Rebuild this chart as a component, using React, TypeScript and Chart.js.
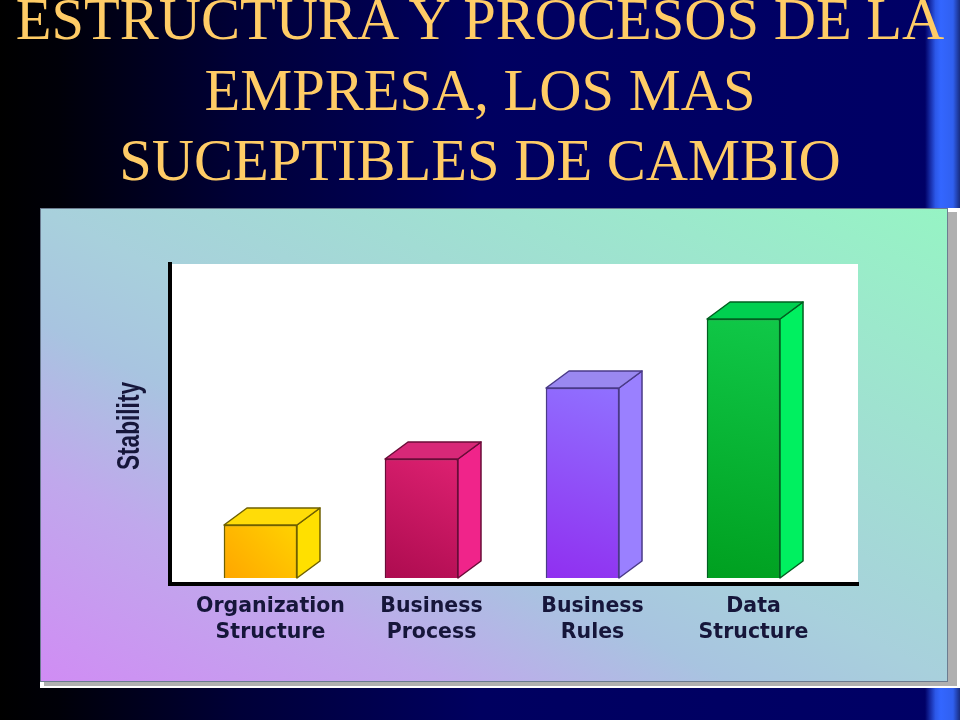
import { useEffect, useRef } from 'react';
import { Chart, registerables } from 'chart.js';

Chart.register(...registerables);

const titleLines = ['ESTRUCTURA Y PROCESOS DE LA', 'EMPRESA, LOS MAS', 'SUCEPTIBLES DE CAMBIO'];
const categories = [['Organization', 'Structure'], ['Business', 'Process'], ['Business', 'Rules'], ['Data', 'Structure']];
const stability = [53, 119, 190, 259];
const yAxisLabel = 'Stability';

const palette = [
  { light: '#ffd000', dark: '#ffa800', side: '#ffe000', top: '#ffdc08', edge: '#6f6000' },
  { light: '#dc2070', dark: '#ae0c50', side: '#f0248a', top: '#d82878', edge: '#6a0c38' },
  { light: '#9070ff', dark: '#9030f0', side: '#9a80ff', top: '#9a88f0', edge: '#4a3a88' },
  { light: '#10c848', dark: '#00a020', side: '#00f060', top: '#00d050', edge: '#006020' },
];

const DEPTH_X = 23;
const DEPTH_Y = 17;

const backdrop = {
  id: 'backdrop',
  beforeDraw(chart: any) {
    const { ctx, chartArea, width, height } = chart;
    ctx.save();
    const bg = ctx.createLinearGradient(0, 0, width, 0);
    bg.addColorStop(0, '#000000');
    bg.addColorStop(0.06, '#000008');
    bg.addColorStop(0.25, '#000038');
    bg.addColorStop(0.5, '#000060');
    bg.addColorStop(1, '#000066');
    ctx.fillStyle = bg;
    ctx.fillRect(0, 0, width, height);

    const stripe = ctx.createLinearGradient(925, 0, 960, 0);
    stripe.addColorStop(0, '#000066');
    stripe.addColorStop(0.3, '#2c58e8');
    stripe.addColorStop(0.45, '#3366ff');
    stripe.addColorStop(0.8, '#3060f0');
    stripe.addColorStop(1, '#182c80');
    ctx.fillStyle = stripe;
    ctx.fillRect(925, 0, 35, height);

    ctx.fillStyle = '#ffffff';
    ctx.fillRect(40, 208, 920, 480);
    ctx.fillStyle = '#b0b0b0';
    ctx.fillRect(44, 212, 913, 474);

    // corner to corner, so top left and bottom right share a colour
    const panel = ctx.createLinearGradient(300, 817, 688, 73);
    panel.addColorStop(0, '#d08cf4');
    panel.addColorStop(0.22, '#c0a8ec');
    panel.addColorStop(0.38, '#a8c4e0');
    panel.addColorStop(0.5, '#a8d0dc');
    panel.addColorStop(1, '#96f4c4');
    ctx.fillStyle = panel;
    ctx.fillRect(40, 208, 908, 474);
    ctx.strokeStyle = '#6c7c90';
    ctx.lineWidth = 1;
    ctx.strokeRect(40.5, 208.5, 907, 473);

    ctx.fillStyle = '#ffffff';
    ctx.fillRect(chartArea.left, chartArea.top, chartArea.width, chartArea.height);
    ctx.restore();
  },
};

// side and top faces of the boxes, taken from the bar elements
const boxFaces = {
  id: 'boxFaces',
  afterDatasetsDraw(chart: any) {
    const { ctx } = chart;
    chart.getDatasetMeta(0).data.forEach((bar: any, i: number) => {
      const right = bar.x + bar.width / 2;
      const left = bar.x - bar.width / 2;
      const c = palette[i];
      ctx.save();
      ctx.lineWidth = 1.5;
      ctx.strokeStyle = c.edge;
      ctx.lineJoin = 'round';
      ctx.fillStyle = c.side;
      ctx.beginPath();
      ctx.moveTo(right, bar.y);
      ctx.lineTo(right + DEPTH_X, bar.y - DEPTH_Y);
      ctx.lineTo(right + DEPTH_X, bar.base - DEPTH_Y);
      ctx.lineTo(right, bar.base);
      ctx.closePath();
      ctx.fill();
      ctx.stroke();
      ctx.fillStyle = c.top;
      ctx.beginPath();
      ctx.moveTo(left, bar.y);
      ctx.lineTo(left + DEPTH_X, bar.y - DEPTH_Y);
      ctx.lineTo(right + DEPTH_X, bar.y - DEPTH_Y);
      ctx.lineTo(right, bar.y);
      ctx.closePath();
      ctx.fill();
      ctx.stroke();
      ctx.restore();
    });
  },
};

// the axis label is a squeezed bold face, the axis title option can't narrow it
const narrowAxisLabel = {
  id: 'narrowAxisLabel',
  afterDraw(chart: any) {
    const { ctx } = chart;
    ctx.save();
    ctx.translate(130, 426);
    ctx.rotate(-Math.PI / 2);
    ctx.scale(0.73, 1);
    ctx.font = 'bold 31px "Liberation Sans"';
    ctx.fillStyle = '#16163a';
    ctx.textAlign = 'center';
    ctx.textBaseline = 'middle';
    ctx.fillText(yAxisLabel, 0, 0);
    ctx.restore();
  },
};

export default function App() {
  const chartRef = useRef<HTMLCanvasElement | null>(null);

  useEffect(() => {
    if (!chartRef.current) return;
    const chart = new Chart(chartRef.current, {
      type: 'bar',
      data: {
        datasets: [{
          label: yAxisLabel,
          data: stability.map((v, i) => ({ x: i + 1, y: v })) as any,
          barThickness: 73,
          borderWidth: 1.5,
          borderColor: (c: any) => palette[c.dataIndex]?.edge,
          backgroundColor: (c: any) => {
            const bar = palette[c.dataIndex];
            const { x, y } = c.chart.scales;
            if (!bar || !x || !y || !c.chart.chartArea) return '#888888';
            const cx = x.getPixelForValue(c.dataIndex + 1);
            const g = c.chart.ctx.createLinearGradient(
              cx + 30, y.getPixelForValue(stability[c.dataIndex]), cx - 30, y.getPixelForValue(0));
            g.addColorStop(0, bar.light);
            g.addColorStop(1, bar.dark);
            return g;
          },
        }],
      },
      options: {
        animation: false,
        responsive: false,
        devicePixelRatio: 1,
        layout: { padding: { left: 0, right: 102, top: 264, bottom: 0 } },
        plugins: { legend: { display: false }, tooltip: { enabled: false } },
        scales: {
          x: {
            type: 'linear',
            offset: false,
            min: 0.438,
            max: 4.711,
            grid: { display: false },
            border: { color: '#000000', width: 4 },
            afterBuildTicks: (scale: any) => {
              scale.ticks = categories.map((_, i) => ({ value: i + 1 }));
            },
            afterFit: (scale: any) => { scale.height = 136; },
            ticks: {
              autoSkip: false,
              maxRotation: 0,
              labelOffset: 10,
              padding: 2,
              color: '#16163a',
              font: { family: 'DejaVu Sans', weight: 'bold', size: 20.5, lineHeight: 1.27 },
              callback: (value: any) => categories[Number(value) - 1],
            },
          },
          y: {
            min: -6,
            max: 314,
            grid: { display: false },
            border: { color: '#000000', width: 4 },
            afterFit: (scale: any) => { scale.width = 170; },
            ticks: { display: false },
          },
        },
      },
      plugins: [backdrop, boxFaces, narrowAxisLabel],
    });
    return () => chart.destroy();
  }, []);

  return (
    <div style={{ position: 'fixed', left: 0, top: 0, width: 960, height: 720, overflow: 'hidden' }}>
      <canvas ref={chartRef} width={960} height={720} style={{ display: 'block' }} />
      <div
        style={{
          position: 'absolute',
          left: 0,
          top: -15,
          width: 960,
          textAlign: 'center',
          color: '#ffcc66',
          fontFamily: '"Liberation Serif", serif',
          fontSize: 58.5,
          lineHeight: '70.5px',
          whiteSpace: 'nowrap',
        }}
      >
        {titleLines.map((line) => (
          <div key={line}>{line}</div>
        ))}
      </div>
    </div>
  );
}
